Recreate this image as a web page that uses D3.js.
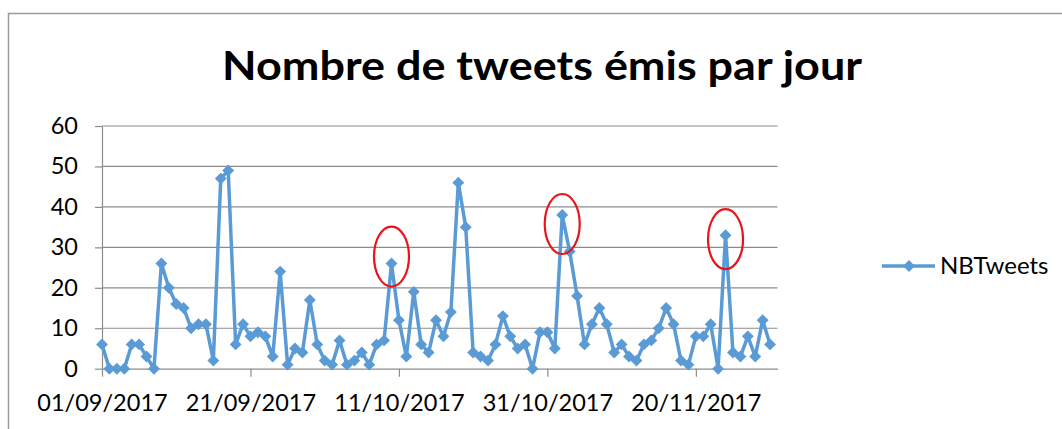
<!DOCTYPE html>
<html>
<head>
<meta charset="utf-8">
<script src="https://cdn.jsdelivr.net/npm/d3@7"></script>
<style>
  html, body { margin: 0; padding: 0; background: #fff; }
  svg { display: block; font-family: Lato, "Liberation Sans", sans-serif; }
</style>
</head>
<body>
<svg id="chart" width="1062" height="429"></svg>
<script>
// Daily tweet counts, one value per day starting 01/09/2017
const startDate = "2017-09-01";
const nbTweets = [
  6, 0, 0, 0, 6, 6, 3, 0, 26, 20, 16, 15, 10, 11, 11, 2, 47, 49, 6, 11, 8, 9, 8,
  3, 24, 1, 5, 4, 17, 6, 2, 1, 7, 1, 2, 4, 1, 6, 7, 26, 12, 3, 19, 6, 4, 12,
  8, 14, 46, 35, 4, 3, 2, 6, 13, 8, 5, 6, 0, 9, 9, 5, 38, 29, 18, 6, 11, 15, 11,
  4, 6, 3, 2, 6, 7, 10, 15, 11, 2, 1, 8, 8, 11, 0, 33, 4, 3, 8, 3, 12, 6
];
const xTickLabels = ["01/09/2017", "21/09/2017", "11/10/2017", "31/10/2017", "20/11/2017"];
const yTicks = [0, 10, 20, 30, 40, 50, 60];
const highlightedDays = [39, 62, 84];   // peaks circled in red
const seriesName = "NBTweets";
const title = "Nombre de tweets émis par jour";

const parseIso = d3.timeParse("%Y-%m-%d");
const parseFr = d3.timeParse("%d/%m/%Y");
const start = parseIso(startDate);
const data = nbTweets.map((v, i) => ({ date: d3.timeDay.offset(start, i), value: v }));

const svg = d3.select("#chart");
const color = "#5B9BD5";
const gridColor = "#8c8c8c";
const labelSize = 23.5;

// outer chart frame
svg.append("path")
  .attr("d", "M8.5,429 V13.5 H1062")
  .attr("fill", "none").attr("stroke", "#9a9a9a").attr("stroke-width", 1.5);

const x = d3.scaleTime()
  .domain([start, d3.timeDay.offset(start, 91)])
  .range([102, 777.5]);
const y = d3.scaleLinear().domain([0, 60]).range([368.7, 126]);

// horizontal gridlines
svg.append("g").selectAll("line").data(yTicks.slice(1)).join("line")
  .attr("x1", x.range()[0]).attr("x2", x.range()[1])
  .attr("y1", d => y(d)).attr("y2", d => y(d))
  .attr("stroke", gridColor).attr("stroke-width", 1.2);

// y axis
const yAxis = svg.append("g")
  .attr("transform", `translate(${x.range()[0]},0)`)
  .call(d3.axisLeft(y).tickValues(yTicks).tickSize(7).tickPadding(17).tickSizeOuter(0));
yAxis.select(".domain").attr("stroke", gridColor).attr("stroke-width", 1.2);
yAxis.selectAll(".tick line").attr("stroke", gridColor).attr("stroke-width", 1.2);
yAxis.selectAll(".tick text").attr("font-size", labelSize).attr("fill", "#000")
  .attr("font-family", "Lato, sans-serif");

// x axis
const xTickDates = xTickLabels.map(parseFr);
const fmt = d3.timeFormat("%d/%m/%Y");
const xAxis = svg.append("g")
  .attr("transform", `translate(0,${y(0)})`)
  .call(d3.axisBottom(x).tickValues(xTickDates).tickFormat(fmt).tickSize(8).tickPadding(18).tickSizeOuter(0));
xAxis.select(".domain").attr("stroke", gridColor).attr("stroke-width", 1.2);
xAxis.selectAll(".tick line").attr("stroke", gridColor).attr("stroke-width", 1.2);
xAxis.selectAll(".tick text").attr("font-size", labelSize).attr("fill", "#000")
  .attr("font-family", "Lato, sans-serif");

// series line
const line = d3.line().x(d => x(d.date)).y(d => y(d.value));
svg.append("path").datum(data)
  .attr("d", line)
  .attr("fill", "none").attr("stroke", color)
  .attr("stroke-width", 3.5).attr("stroke-linejoin", "round");

// diamond markers
const diamond = d3.symbol().type(d3.symbolDiamond2).size(90);
svg.append("g").selectAll("path").data(data).join("path")
  .attr("transform", d => `translate(${x(d.date)},${y(d.value)})`)
  .attr("d", diamond)
  .attr("fill", color);

// red ellipses round the highlighted peaks
const ellipseOffsets = [-7, 9, 4];
svg.append("g").selectAll("ellipse").data(highlightedDays).join("ellipse")
  .attr("cx", d => x(data[d].date))
  .attr("cy", (d, i) => y(data[d].value) + ellipseOffsets[i])
  .attr("rx", 17.5).attr("ry", 30)
  .attr("fill", "none").attr("stroke", "#e8131b").attr("stroke-width", 2.2);

// title
svg.append("text")
  .attr("x", 222).attr("y", 80)
  .attr("font-size", 41).attr("font-weight", 700)
  .attr("textLength", 640).attr("lengthAdjust", "spacingAndGlyphs")
  .text(title);

// legend
const lg = svg.append("g").attr("transform", "translate(0,266)");
lg.append("line").attr("x1", 882).attr("x2", 935).attr("y1", 0).attr("y2", 0)
  .attr("stroke", color).attr("stroke-width", 3.5);
lg.append("path").attr("transform", "translate(909,0)").attr("d", diamond).attr("fill", color);
lg.append("text").attr("x", 940).attr("y", 7.5).attr("font-size", 24).text(seriesName);
</script>
</body>
</html>
